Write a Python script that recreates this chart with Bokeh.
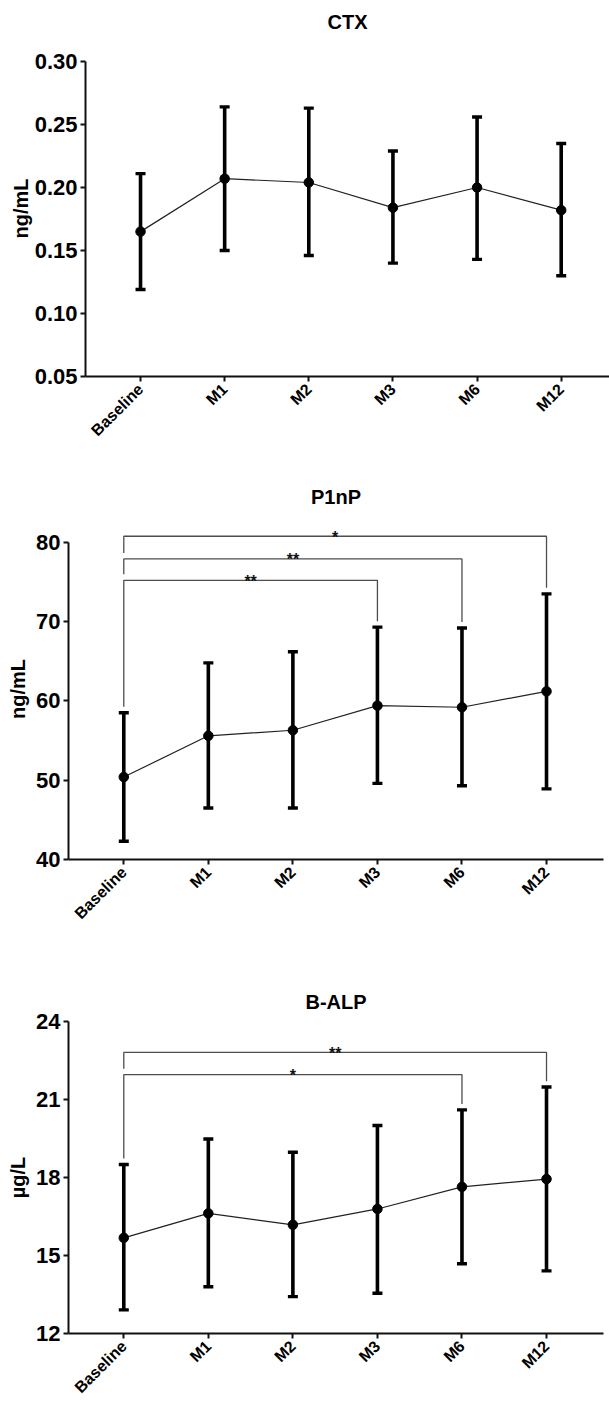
import math
from bokeh.plotting import figure
from bokeh.models import (ColumnDataSource, Whisker, TeeHead, FixedTicker,
                          PrintfTickFormatter, Range1d, Title)
from bokeh.embed import file_html
from bokeh.resources import INLINE
from bokeh.core.properties import value

FONT = "Liberation Sans"

categories = ["Baseline", "M1", "M2", "M3", "M6", "M12"]

ctx_mean = [0.165, 0.207, 0.204, 0.184, 0.200, 0.182]
ctx_upper = [0.211, 0.264, 0.263, 0.229, 0.256, 0.235]
ctx_lower = [0.119, 0.150, 0.146, 0.140, 0.143, 0.130]
ctx_ticks = [0.05, 0.10, 0.15, 0.20, 0.25, 0.30]
ctx_brackets = []

p1np_mean = [50.4, 55.6, 56.3, 59.4, 59.2, 61.2]
p1np_upper = [58.5, 64.8, 66.2, 69.3, 69.2, 73.5]
p1np_lower = [42.3, 46.5, 46.5, 49.6, 49.3, 48.9]
p1np_ticks = [40, 50, 60, 70, 80]
p1np_brackets = [(0, 5, 80.76, "*"), (0, 4, 77.9, "**"), (0, 3, 75.2, "**")]

balp_mean = [15.68, 16.62, 16.18, 16.79, 17.64, 17.94]
balp_upper = [18.5, 19.48, 18.97, 20.0, 20.6, 21.48]
balp_lower = [12.91, 13.8, 13.42, 13.55, 14.68, 14.41]
balp_ticks = [12, 15, 18, 21, 24]
balp_brackets = [(0, 5, 22.81, "**"), (0, 4, 21.96, "*")]


def make_chart(title, ylabel, mean, upper, lower, ticks, fmt, brackets,
               height, ytop, xr, borders, title_standoff, label_standoff):
    bl, br, bt, bb = borders
    ymin, ymax_axis = ticks[0], ticks[-1]
    p = figure(width=609, height=height, output_backend="svg",
               toolbar_location=None, x_range=Range1d(*xr),
               y_range=Range1d(ymin, ytop),
               min_border_left=bl, min_border_right=br,
               min_border_top=bt, min_border_bottom=bb)
    p.title = Title(text=title, align="center", text_font=FONT,
                    text_font_size="20px", text_font_style="bold",
                    text_color="black", standoff=title_standoff)
    p.outline_line_color = None
    p.xgrid.grid_line_color = None
    p.ygrid.grid_line_color = None
    p.background_fill_color = "white"
    p.border_fill_color = "white"

    xs = list(range(len(categories)))
    src = ColumnDataSource(dict(x=xs, mean=mean, upper=upper, lower=lower))

    # significance brackets
    frame_h = height - bt - bb
    gap = 6 * (ytop - ymin) / frame_h
    bs = sorted(brackets, key=lambda b: -b[2])
    bx, by, tx, ty, tt = [], [], [], [], []
    for k, (i, j, lev, lab) in enumerate(bs):
        if k + 1 < len(bs):
            left_bottom = bs[k + 1][2] + gap
        else:
            left_bottom = upper[i] + gap
        right_bottom = upper[j] + gap
        bx.append([i, i, j, j])
        by.append([left_bottom, lev, lev, right_bottom])
        tx.append((i + j) / 2)
        ty.append(lev)
        tt.append(lab)
    if bx:
        p.multi_line(xs=bx, ys=by, line_color="#4d4d4d", line_width=1.3)
        p.text(x=tx, y=ty, text=tt, text_align="center",
               text_baseline="alphabetic", text_font=value(FONT),
               text_font_size="16px", text_font_style="bold",
               text_color="#111111", y_offset=1)

    p.line("x", "mean", source=src, line_color="#222222", line_width=1.2)
    w = Whisker(source=src, base="x", upper="upper", lower="lower",
                line_width=3.6, line_color="black",
                upper_head=TeeHead(size=10, line_width=3.4, line_color="black"),
                lower_head=TeeHead(size=10, line_width=3.4, line_color="black"))
    p.add_layout(w)
    p.scatter("x", "mean", source=src, size=9.5, color="black")

    for ax in (p.xaxis[0], p.yaxis[0]):
        ax.axis_line_width = 2
        ax.axis_line_color = "#111111"
        ax.major_tick_line_width = 2
        ax.major_tick_line_color = "#111111"
        ax.major_tick_out = 5
        ax.major_tick_in = 0
        ax.minor_tick_line_color = None
        ax.major_label_text_font = FONT
        ax.major_label_text_font_style = "bold"
        ax.major_label_text_color = "black"

    xa = p.xaxis[0]
    xa.ticker = FixedTicker(ticks=xs)
    xa.major_label_overrides = {i: c for i, c in enumerate(categories)}
    xa.major_label_orientation = math.pi / 4
    xa.major_label_text_font_size = "16px"
    xa.major_label_standoff = 5

    ya = p.yaxis[0]
    ya.ticker = FixedTicker(ticks=ticks)
    ya.formatter = PrintfTickFormatter(format=fmt)
    ya.bounds = (ymin, ymax_axis)
    ya.major_label_text_font_size = "22px"
    ya.major_label_standoff = 3
    ya.axis_label = ylabel
    ya.axis_label_text_font = FONT
    ya.axis_label_text_font_style = "bold"
    ya.axis_label_text_font_size = "20px"
    ya.axis_label_text_color = "black"
    ya.axis_label_standoff = label_standoff
    return p


p1 = make_chart("CTX", "ng/mL", ctx_mean, ctx_upper, ctx_lower, ctx_ticks,
                "%.2f", ctx_brackets, 470, 0.3167, (-0.654, 5.574),
                (85, 0, 40, 94), 16, 0)
p2 = make_chart("P1nP", "ng/mL", p1np_mean, p1np_upper, p1np_lower,
                p1np_ticks, "%d", p1np_brackets, 490, 83, (-0.654, 5.674),
                (68, 6, 48, 101), 22, 4)
p3 = make_chart("B-ALP", "µg/L", balp_mean, balp_upper, balp_lower,
                balp_ticks, "%d", balp_brackets, 445, 24, (-0.654, 5.674),
                (68, 6, 61, 66), 18, 4)

open("out.html", "w").write(file_html([p1, p2, p3], INLINE))
